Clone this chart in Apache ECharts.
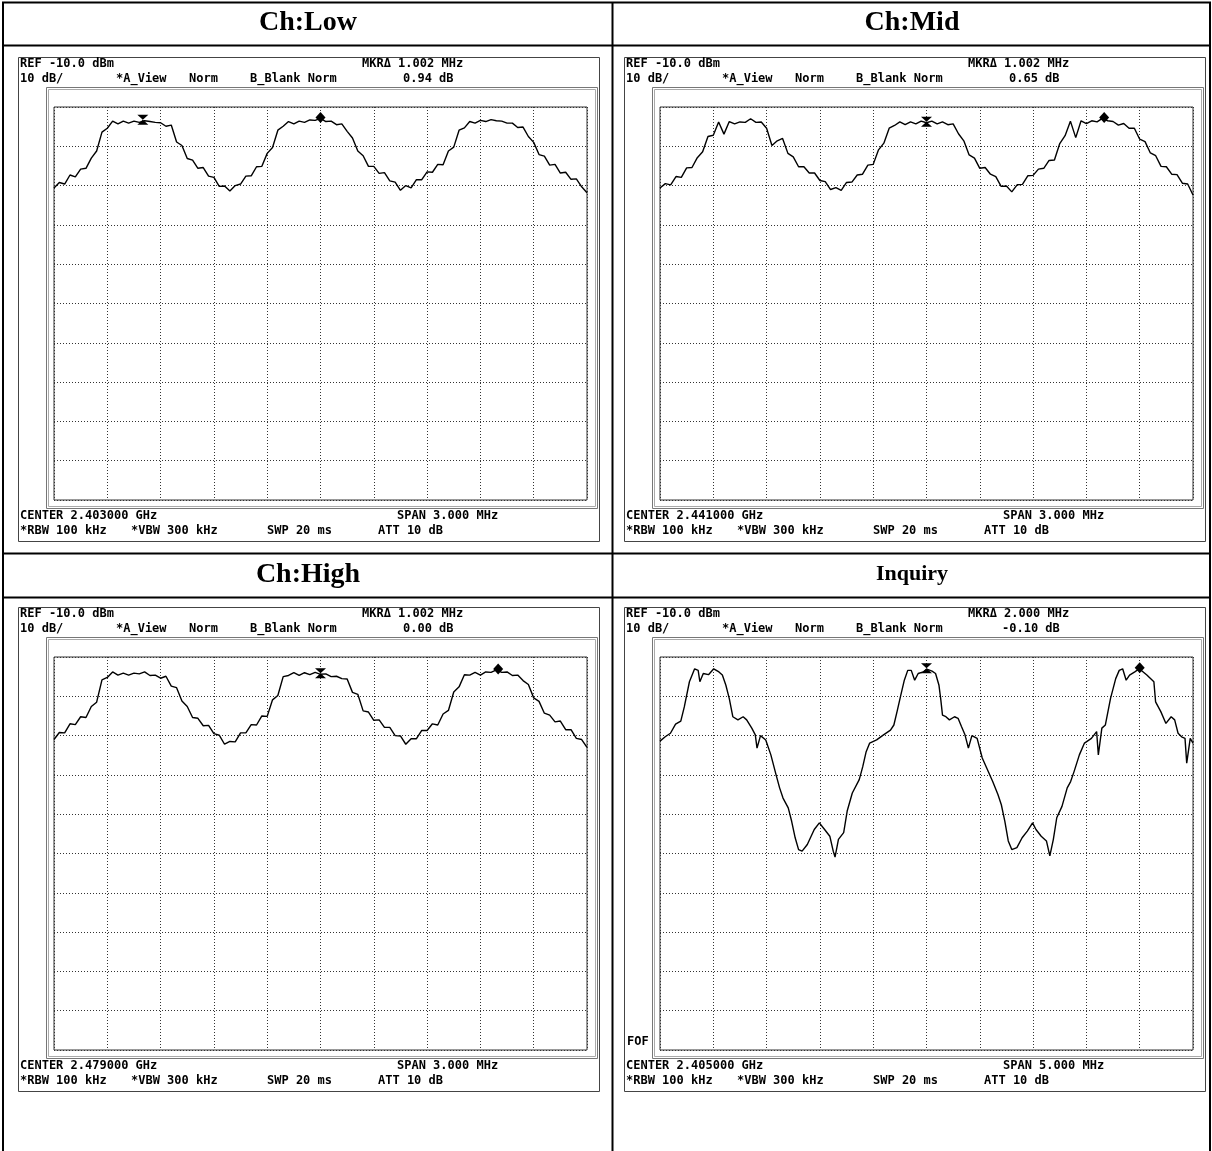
<!DOCTYPE html>
<html><head><meta charset="utf-8">
<script src="https://cdn.jsdelivr.net/npm/echarts@6/dist/echarts.min.js"></script>
<style>html,body{margin:0;padding:0;background:#fff}#c{width:1212px;height:1151px}</style>
</head><body><div id="c"></div><script>
// ---------- data ----------
const titles = ['Ch:Low', 'Ch:Mid', 'Ch:High', 'Inquiry'];
const centerLabels = ['CENTER 2.403000 GHz', 'CENTER 2.441000 GHz', 'CENTER 2.479000 GHz', 'CENTER 2.405000 GHz'];
const spanLabels = ['SPAN 3.000 MHz', 'SPAN 3.000 MHz', 'SPAN 3.000 MHz', 'SPAN 5.000 MHz'];
const spansMHz = [3, 3, 3, 5];
const markerFreqLabels = ['MKR\u0394 1.002 MHz', 'MKR\u0394 1.002 MHz', 'MKR\u0394 1.002 MHz', 'MKR\u0394 2.000 MHz'];
const markerDbLabels = ['0.94 dB', '0.65 dB', '0.00 dB', '-0.10 dB'];
const refMarkerFreq = [-1.0, 0.0, 0.0, 0.0];      // hourglass marker (MHz offset)
const deltaMarkerFreq = [0.0, 1.0, 1.0, 2.0];     // diamond marker (MHz offset)

const lowLevels = [-30.6,-29.2,-29.6,-27.3,-27.8,-25.8,-25.6,-23.0,-21.2,-16.4,
-15.4,-13.6,-14.3,-13.6,-14.1,-13.6,-13.9,-13.5,-13.7,-13.9,
-14.0,-14.9,-14.6,-18.9,-19.8,-23.1,-23.5,-25.6,-25.4,-27.6,
-27.9,-30.2,-30.1,-31.4,-30.0,-29.6,-27.6,-27.5,-25.2,-25.1,
-21.8,-20.3,-15.9,-14.9,-13.7,-14.3,-13.6,-13.9,-13.3,-13.4,
-12.9,-13.7,-13.6,-14.5,-14.3,-16.2,-17.9,-21.2,-22.4,-25.1,
-25.1,-26.9,-26.7,-28.8,-29.1,-31.2,-30.0,-30.6,-28.5,-28.5,
-26.5,-26.6,-24.6,-24.7,-21.2,-20.2,-15.9,-15.3,-13.7,-14.1,
-13.4,-13.7,-13.2,-13.5,-13.6,-14.1,-14.1,-15.2,-15.1,-17.5,
-19.0,-22.1,-22.5,-24.8,-24.6,-26.8,-26.6,-28.4,-28.3,-30.3,
-31.8];

const midLevels = [-30.6,-29.5,-29.8,-27.7,-27.9,-25.5,-25.4,-22.9,-21.4,-17.5,
-17.2,-13.8,-16.9,-13.7,-14.3,-13.8,-13.9,-13.0,-13.9,-13.8,
-15.4,-19.8,-18.6,-18.0,-21.8,-22.7,-25.2,-25.2,-26.8,-26.8,
-28.7,-29.0,-31.0,-30.5,-31.2,-29.2,-29.1,-27.3,-27.1,-24.8,
-24.6,-20.9,-19.2,-15.4,-14.7,-13.8,-14.5,-13.8,-14.3,-13.6,
-14.0,-13.6,-14.3,-13.8,-14.5,-14.3,-16.8,-18.6,-22.2,-23.0,
-25.6,-25.4,-27.1,-27.7,-30.2,-30.1,-31.6,-29.8,-29.7,-27.5,
-27.4,-25.8,-25.6,-23.6,-23.5,-19.3,-17.3,-13.6,-17.8,-13.5,
-14.2,-13.5,-13.8,-12.9,-13.5,-13.7,-14.6,-14.2,-15.4,-15.4,
-18.2,-18.8,-21.7,-22.4,-25.1,-25.2,-27.1,-27.2,-29.4,-29.6,
-32.4];

const highLevels = [-31.0,-29.2,-29.3,-27.0,-27.2,-25.2,-25.4,-22.6,-21.5,-15.8,
-15.2,-13.8,-14.6,-14.1,-14.6,-14.1,-14.3,-13.8,-14.7,-14.6,
-15.4,-14.9,-17.4,-17.8,-21.2,-22.6,-25.4,-25.6,-27.5,-27.4,
-29.5,-29.9,-32.2,-31.5,-31.6,-29.3,-29.3,-27.2,-27.3,-25.0,
-25.1,-20.9,-19.8,-15.0,-14.7,-14.0,-14.7,-14.0,-14.5,-13.9,
-14.4,-14.3,-15.0,-14.9,-15.5,-15.6,-19.0,-19.5,-23.7,-24.0,
-26.1,-26.0,-27.9,-27.9,-30.0,-30.1,-32.2,-30.8,-30.8,-28.7,
-28.7,-27.0,-27.3,-24.5,-23.6,-18.9,-17.6,-14.5,-14.6,-13.9,
-14.6,-13.8,-13.9,-13.3,-13.9,-13.8,-14.7,-14.6,-16.0,-17.0,
-20.4,-21.3,-24.3,-24.8,-26.5,-26.3,-28.5,-28.5,-30.7,-31.0,
-33.0];

const inqFreq = [-2.500,-2.451,-2.402,-2.354,-2.305,-2.272,-2.224,-2.175,-2.142,-2.126,
-2.094,-2.045,-1.996,-1.947,-1.915,-1.882,-1.850,-1.817,-1.769,-1.720,
-1.687,-1.639,-1.606,-1.590,-1.557,-1.508,-1.460,-1.411,-1.378,-1.346,
-1.297,-1.265,-1.232,-1.200,-1.167,-1.118,-1.053,-1.005,-0.956,-0.907,
-0.875,-0.858,-0.826,-0.777,-0.744,-0.696,-0.631,-0.598,-0.566,-0.533,
-0.468,-0.403,-0.338,-0.306,-0.273,-0.241,-0.208,-0.176,-0.143,-0.111,
-0.078,-0.029,0.003,0.052,0.085,0.117,0.133,0.150,0.182,0.215,
0.263,0.296,0.328,0.361,0.393,0.426,0.475,0.523,0.572,0.621,
0.670,0.702,0.735,0.767,0.800,0.848,0.897,0.946,0.995,1.027,
1.076,1.125,1.157,1.190,1.222,1.271,1.320,1.352,1.385,1.434,
1.482,1.547,1.596,1.612,1.645,1.678,1.726,1.775,1.808,1.840,
1.873,1.905,1.954,1.996,2.067,2.133,2.149,2.198,2.246,2.295,
2.328,2.360,2.393,2.425,2.441,2.474,2.500];

const inqLevels = [-31.4,-30.3,-29.4,-27.1,-26.3,-22.7,-16.3,-13.0,-13.4,-16.3,
-14.2,-14.5,-13.0,-13.8,-14.6,-17.2,-20.6,-25.2,-26.0,-25.2,
-26.0,-28.1,-29.8,-33.2,-30.0,-31.1,-34.9,-40.0,-43.3,-45.9,
-48.4,-51.8,-56.0,-59.0,-59.4,-57.7,-53.9,-52.2,-53.9,-55.6,
-59.4,-60.9,-56.4,-54.7,-49.2,-44.6,-41.2,-37.9,-34.1,-31.9,
-31.1,-29.8,-28.6,-27.3,-23.5,-19.7,-15.9,-13.4,-13.4,-15.9,
-14.2,-13.8,-13.1,-13.6,-14.2,-17.2,-20.6,-24.8,-25.2,-26.0,
-25.2,-25.6,-27.7,-29.8,-33.2,-30.0,-30.7,-35.7,-38.7,-41.7,
-45.0,-47.6,-51.8,-56.8,-59.0,-58.5,-56.0,-54.3,-52.2,-53.9,
-55.6,-56.8,-60.6,-56.4,-50.9,-48.0,-43.3,-41.7,-39.1,-34.9,
-31.9,-30.7,-29.0,-34.9,-28.1,-27.3,-20.6,-15.5,-13.4,-13.0,
-15.9,-14.6,-13.8,-13.0,-14.6,-16.3,-21.4,-23.9,-26.9,-25.2,
-26.0,-29.4,-30.3,-30.7,-37.0,-30.7,-31.9];

// ---------- build ----------
function pairsUniform(levels, span) {
  const n = levels.length, out = [];
  for (let i = 0; i < n; i++) out.push([-span / 2 + span * i / (n - 1), levels[i]]);
  return out;
}
const traces = [
  pairsUniform(lowLevels, 3),
  pairsUniform(midLevels, 3),
  pairsUniform(highLevels, 3),
  inqFreq.map((f, i) => [f, inqLevels[i]])
];
function levelAt(trace, f) {
  let best = trace[0];
  trace.forEach(p => { if (Math.abs(p[0] - f) < Math.abs(best[0] - f)) best = p; });
  return best[1];
}

const DX = [0, 606, 0, 606], DY = [0, 0, 550, 550];
const MONO = 'bold 12px "DejaVu Sans Mono"';
const hourglass = 'path://M0,0 L10,0 L5,5 L10,10 L0,10 L5,5 Z';

const grids = [], xAxes = [], yAxes = [], series = [], graphics = [];

function txt(x, y, text, font, align) {
  graphics.push({ type: 'text', x: x, y: y, silent: true,
    style: { text: text, font: font, fill: '#000', align: align || 'left', verticalAlign: 'middle',
             textAlign: align || 'left', textVerticalAlign: 'middle' } });
}
function line(x1, y1, x2, y2, w, c) {
  graphics.push({ type: 'line', silent: true, shape: { x1, y1, x2, y2 }, style: { stroke: c || '#000', lineWidth: w } });
}
function rect(x, y, w, h, c, lw) {
  graphics.push({ type: 'rect', silent: true, shape: { x, y, width: w, height: h }, style: { fill: 'none', stroke: c, lineWidth: lw || 1 } });
}

// table
line(3, 2, 3, 1151, 2);
line(612.5, 2, 612.5, 1151, 2);
line(1210, 2, 1210, 1151, 2);
line(2, 2.5, 1211, 2.5, 2);
line(2, 45.5, 1211, 45.5, 2);
line(2, 553.5, 1211, 553.5, 2);
line(2, 597.5, 1211, 597.5, 2);

const titleFont = ['bold 28px "Liberation Serif"', 'bold 28px "Liberation Serif"', 'bold 28px "Liberation Serif"', 'bold 22px "Liberation Serif"'];
const titleY = [23, 23, 575, 574];
const titleX = [308, 912, 308, 912];

for (let p = 0; p < 4; p++) {
  const dx = DX[p], dy = DY[p], span = spansMHz[p];
  txt(titleX[p], titleY[p], titles[p], titleFont[p], 'center');
  // instrument screen boxes
  rect(18.5 + dx, 57.5 + dy, 581, 484, '#444', 1);
  rect(46.5 + dx, 87.5 + dy, 551, 421, '#777', 1);
  rect(48.5 + dx, 89.5 + dy, 547, 417, '#aaa', 1);
  // texts
  txt(20 + dx, 64 + dy, 'REF -10.0 dBm', MONO);
  txt(362 + dx, 64 + dy, markerFreqLabels[p], MONO);
  txt(20 + dx, 79 + dy, '10 dB/', MONO);
  txt(116 + dx, 79 + dy, '*A_View', MONO);
  txt(189 + dx, 79 + dy, 'Norm', MONO);
  txt(250 + dx, 79 + dy, 'B_Blank Norm', MONO);
  txt((markerDbLabels[p][0] === '-' ? 396 : 403) + dx, 79 + dy, markerDbLabels[p], MONO);
  txt(20 + dx, 516 + dy, centerLabels[p], MONO);
  txt(397 + dx, 516 + dy, spanLabels[p], MONO);
  txt(20 + dx, 531 + dy, '*RBW 100 kHz', MONO);
  txt(131 + dx, 531 + dy, '*VBW 300 kHz', MONO);
  txt(267 + dx, 531 + dy, 'SWP 20 ms', MONO);
  txt(378 + dx, 531 + dy, 'ATT 10 dB', MONO);
  if (p === 3) txt(627, 1042, 'FOF', MONO);

  grids.push({ left: 54 + dx, top: 107 + dy, width: 533, height: 393, show: true,
    borderColor: '#333', borderWidth: 1, backgroundColor: 'transparent', containLabel: false });
  const split = { show: true, lineStyle: { type: [1, 2], color: '#333', width: 1 } };
  xAxes.push({ type: 'value', gridIndex: p, min: -span / 2, max: span / 2, interval: span / 10,
    axisLabel: { show: false }, axisTick: { show: false }, axisLine: { show: false }, splitLine: split });
  yAxes.push({ type: 'value', gridIndex: p, min: -110, max: -10, interval: 10,
    axisLabel: { show: false }, axisTick: { show: false }, axisLine: { show: false }, splitLine: split });
  const tr = traces[p];
  series.push({ type: 'line', xAxisIndex: p, yAxisIndex: p, data: tr, showSymbol: false, symbol: 'none',
    lineStyle: { color: '#000', width: 1.4 }, animation: false, silent: true, z: 5,
    markPoint: { animation: false, silent: true, label: { show: false },
      data: [
        { coord: [refMarkerFreq[p], levelAt(tr, refMarkerFreq[p])], symbol: hourglass, symbolSize: [11, 10], symbolOffset: [0, -1], itemStyle: { color: '#000' } },
        { coord: [deltaMarkerFreq[p], levelAt(tr, deltaMarkerFreq[p])], symbol: 'diamond', symbolSize: [10, 11], symbolOffset: [0, -1], itemStyle: { color: '#000' } }
      ] } });
}

const chart = echarts.init(document.getElementById('c'), null, { renderer: 'canvas', width: 1212, height: 1151 });
chart.setOption({
  animation: false,
  backgroundColor: '#fff',
  grid: grids, xAxis: xAxes, yAxis: yAxes, series: series,
  graphic: { elements: graphics }
});
</script></body></html>
